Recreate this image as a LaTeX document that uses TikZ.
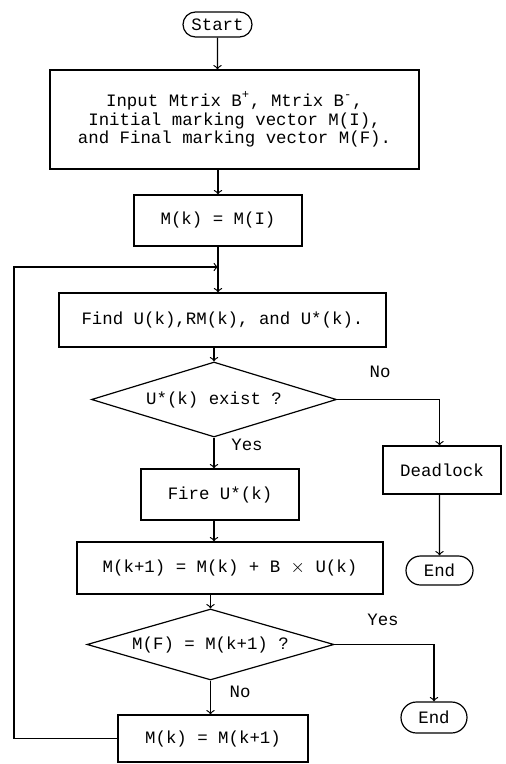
\documentclass[tikz,border=0pt]{standalone}
\usepackage{fontspec}
\setmonofont{Liberation Mono}
\usetikzlibrary{shapes.geometric}
\usetikzlibrary{shapes.misc}

\tikzset{
  chart/.style={font=\ttfamily\fontsize{8.7}{9.3}\selectfont, line width=0.6pt},
  proc/.style={draw, rectangle, inner sep=0pt},
  term/.style={draw, rounded rectangle, inner sep=0pt},
  test/.style={draw, diamond, aspect=3.4, inner sep=0pt},
}

\begin{document}
\begin{tikzpicture}[chart, x=0.5pt, y=-0.5pt]
\useasboundingbox (0,0) rectangle (505,764);

\node[term, minimum width=34.5pt, minimum height=12.5pt] (start) at (217.5,24.5) {Start};

% input matrices and markings
\node[proc, minimum width=184.5pt, minimum height=49.5pt, align=center] (input) at (234.5,119.5)
  {Input Mtrix B\textsuperscript{+}, Mtrix B\textsuperscript{-},\\
   Initial marking vector M(I),\\
   and Final marking vector M(F).};
\draw[->] (start) -- (start |- input.north);

% M(k) = M(I)
\node[proc, minimum width=84pt, minimum height=25.5pt] (mk) at (218,220.5) {M(k) = M(I)};
\draw[->] (mk |- input.south) -- (mk);

% Find U(k)
\node[proc, minimum width=163.5pt, minimum height=27pt] (find) at (222.5,320) {Find U(k),RM(k), and U*(k).};
\draw[->] (mk) -- (mk |- find.north);
\coordinate (join) at (mk |- 0,267);

% U*(k) exist ?
\node[test, minimum width=122.5pt, minimum height=37.5pt] (exist) at (214,399.5) {U*(k) exist ?};
\draw[->] (exist.north |- find.south) -- (exist.north);

% Deadlock
\node[proc, minimum width=59pt, minimum height=24pt] (dead) at (442,470) {Deadlock};
\node[term, minimum width=33.5pt, minimum height=14.5pt] (end-d) at (439.5,570.5) {End};
\draw[->] (exist.east) -| (end-d |- dead.north);
\draw[->] (end-d |- dead.south) -- (end-d);
\node (no-d) at (380,372) {No};

% Fire U*(k)
\node[proc, minimum width=79pt, minimum height=25.5pt] (fire) at (220,494.5) {Fire U*(k)};
\draw[->] (exist.south) -- (exist.south |- fire.north);
\node (yes-f) at (247,445) {Yes};

% M(k+1)
\node[proc, minimum width=153pt, minimum height=26pt] (mk1) at (230,568) {M(k+1) = M(k) + B {\rmfamily$\times$} U(k)};
\draw[->] (exist.south |- fire.south) -- (exist.south |- mk1.north);

% M(F) = M(k+1) ?
\node[test, minimum width=123.5pt, minimum height=35.5pt] (final) at (210.5,644.5) {M(F) = M(k+1) ?};
\draw[->] (final.north |- mk1.south) -- (final.north);
\node[term, minimum width=33pt, minimum height=15.5pt] (end-f) at (434,717.5) {End};
\draw[->] (final.east) -| (end-f);
\node (yes-e) at (383,620) {Yes};

% M(k) = M(k+1), back to the loop
\node[proc, minimum width=95pt, minimum height=23.5pt] (next) at (213,738.5) {M(k) = M(k+1)};
\draw[->] (final.south) -- (final.south |- next.north);
\node (no-n) at (240,692) {No};
\draw[->] (next.west) -- (14,738.5) -- (14,267) -- (join);
\end{tikzpicture}
\end{document}
